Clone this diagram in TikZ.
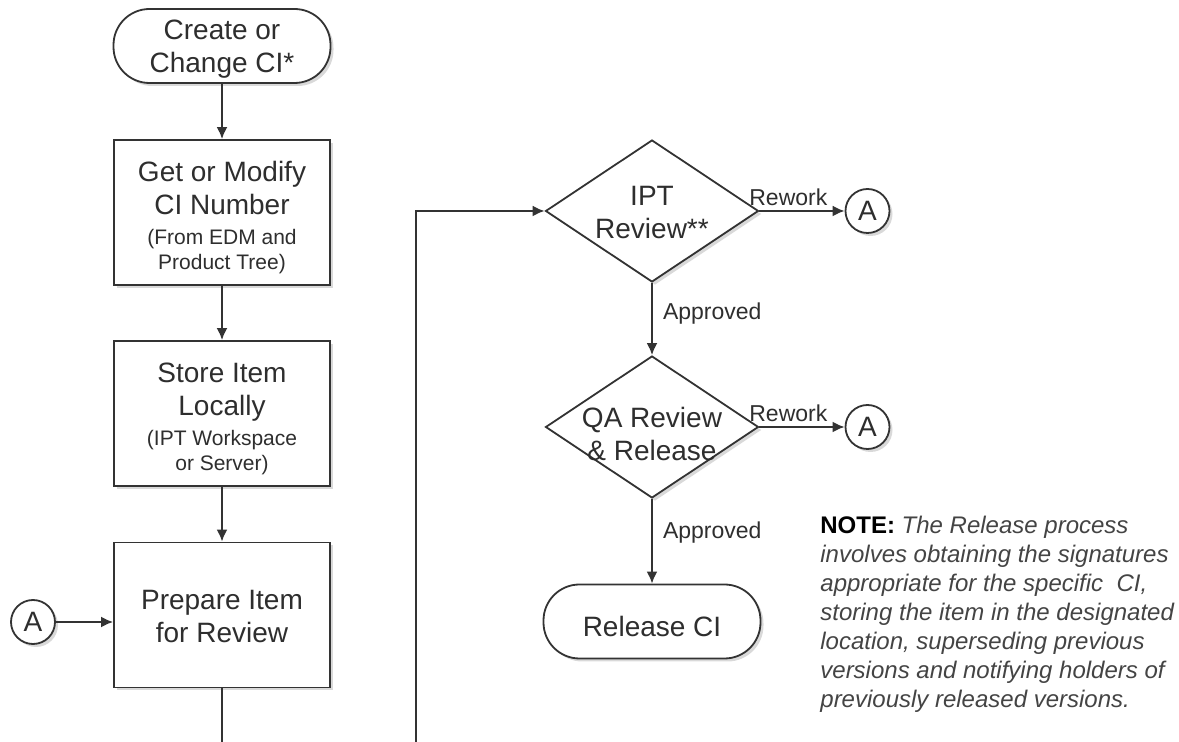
\documentclass[tikz,border=0pt]{standalone}
\usepackage{fontspec}
\setmainfont{Liberation Sans}
\usetikzlibrary{shapes.geometric}
\usetikzlibrary{arrows.meta}
\usetikzlibrary{shadows}

\definecolor{edgegray}{HTML}{333333}
\definecolor{textgray}{HTML}{2E2E2E}
\definecolor{notegray}{HTML}{444444}

\newcommand{\boxfont}{\fontsize{14}{16.5}\selectfont}
\newcommand{\subfont}{\fontsize{10.5}{12.5}\selectfont}
\newcommand{\tagfont}{\fontsize{11.5}{13}\selectfont}
\newcommand{\notefont}{\fontsize{12}{14.45}\selectfont}

\tikzset{
        boxshadow/.style={drop shadow={shadow xshift=1.5pt,shadow yshift=-1.5pt,opacity=0.3}},
        terminal/.style={rectangle,rounded corners=18pt,draw=edgegray,line width=0.9pt,fill=white,boxshadow,
                minimum width=108.5pt,minimum height=37pt},
        process/.style={rectangle,draw=edgegray,line width=0.9pt,fill=white,boxshadow,
                minimum width=108pt,minimum height=72.5pt},
        decision/.style={diamond,draw=edgegray,line width=0.9pt,fill=white,boxshadow,
                minimum width=106.5pt,minimum height=71pt,inner sep=0pt},
        boxtext/.style={align=center,font=\boxfont,text=textgray},
        connector/.style={circle,draw=edgegray,line width=0.9pt,fill=white,boxshadow,
                minimum size=22pt,inner sep=0pt,font=\boxfont,text=textgray},
        flow/.style={-{Latex[length=6pt,width=5.5pt]},line width=1pt,draw=edgegray},
        tag/.style={font=\tagfont,text=textgray,inner sep=2pt}
}

\begin{document}
\begin{tikzpicture}[x=0.5pt,y=-0.5pt]
        % keep the page at the size of the original
        \useasboundingbox (0,0) rectangle (1179,742);
        \clip (0,0) rectangle (1179,742);

        % draw the left column
        \node[terminal] (create) at (222,46) {};
        \node[boxtext] (createtext) at (222,49.5) {Create or\\Change CI*};
        \node[process] (getnum) at (222,212.5) {};
        \node[boxtext] (getnumtext) at (222,218) {Get or Modify\\CI Number\\[-1.5pt]{\subfont (From EDM and}\\[-4pt]{\subfont Product Tree)}};
        \node[process] (store) at (222,413.5) {};
        \node[boxtext] (storetext) at (222,418.5) {Store Item\\Locally\\[-1.5pt]{\subfont (IPT Workspace}\\[-4pt]{\subfont or Server)}};
        \node[process] (prepare) at (222,615) {};
        \node[boxtext] (preparetext) at (222,617) {Prepare Item\\for Review};
        \node[connector] (backin) at (33,622) {A};

        % draw the right column
        \node[decision] (ipt) at (652,211) {};
        \node[boxtext] (ipttext) at (652,213) {IPT\\Review**};
        \node[decision] (qa) at (652,427) {};
        \node[boxtext] (qatext) at (652,434) {QA Review\\\& Release};
        \node[terminal] (release) at (652,621.5) {};
        \node[boxtext] (releasetext) at (652,626) {Release CI};
        \node[connector] (reworkone) at (867.5,211) {A};
        \node[connector] (reworktwo) at (867.5,427) {A};

        % draw the note
        \node[anchor=north west,align=left,inner sep=0pt,font=\notefont\itshape,text=notegray] (note) at (820,516)
                {{\upshape\bfseries\color{black}NOTE:} The Release process\\
                involves obtaining the signatures\\
                appropriate for the specific~ CI,\\
                storing the item in the designated\\
                location, superseding previous\\
                versions and notifying holders of\\
                previously released versions.};

        % draw the arrows
        \draw[flow] (create) -- (getnum);
        \draw[flow] (getnum) -- (store);
        \draw[flow] (store) -- (prepare);
        \draw[flow] (backin.east) -- (backin.east -| prepare.west);
        % the loop runs out below the page
        \coordinate (loopcorner) at (416,780);
        \draw[flow] (prepare.south) |- (loopcorner) |- (ipt.west);
        \draw[flow] (ipt.east) -- node[tag,above,pos=0.34] (reworktagone) {Rework} (reworkone);
        \draw[flow] (ipt.south) -- node[tag,right,pos=0.43,xshift=3pt] (approvedtagone) {Approved} (qa.north);
        \draw[flow] (qa.east) -- node[tag,above,pos=0.34] (reworktagtwo) {Rework} (reworktwo);
        \draw[flow] (qa.south) -- node[tag,right,pos=0.4,xshift=3pt] (approvedtagtwo) {Approved} (release);
\end{tikzpicture}
\end{document}
